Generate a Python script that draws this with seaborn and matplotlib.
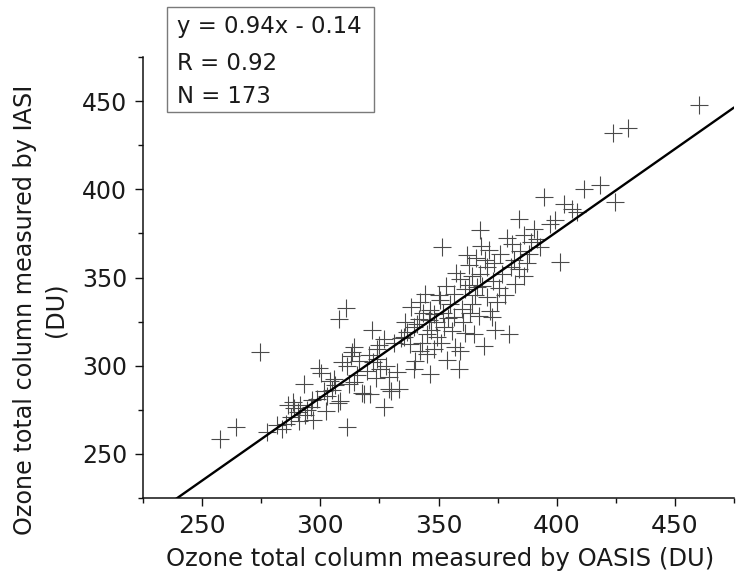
import numpy as np
import pandas as pd
import matplotlib
matplotlib.use("Agg")
import matplotlib.pyplot as plt
from matplotlib.patches import Rectangle
import seaborn as sns

# ---- data ----
oasis = [
    257.5, 264.5, 274.5, 277.5, 281.5, 284.0, 285.5, 286.5, 287.5, 288.5,
    289.0, 290.5, 291.5, 293.0, 293.5, 294.5, 296.0, 297.0, 298.5, 299.5,
    300.5, 301.5, 302.2, 302.9, 304.3, 305.7, 306.4, 307.8, 308.5, 307.5,
    309.3, 310.7, 311.1, 312.0, 312.8, 313.5, 314.2, 314.2, 315.5, 317.7,
    318.4, 319.8, 321.2, 321.9, 322.5, 324.0, 324.0, 325.0, 325.4, 326.8,
    326.8, 327.6, 328.9, 329.0, 329.7,
    333.2, 334.0, 335.3, 336.7, 338.1, 339.5, 339.5, 340.2, 341.0, 341.7,
    342.3, 342.3, 343.5, 344.5, 345.0, 345.2, 346.3, 346.6, 347.0, 348.0,
    348.0, 349.0, 349.4, 350.0, 350.5,
    351.5, 352.0, 352.5, 353.0, 354.0, 355.0, 355.7, 356.4, 356.4, 357.1,
    358.5, 359.3, 359.3, 360.0, 360.5, 361.4, 362.1, 362.8, 363.5, 364.2,
    364.2, 364.9, 365.5, 366.3, 367.0, 367.7, 367.7, 368.0, 369.1, 369.5,
    370.5, 370.5, 371.9, 372.6, 373.0, 374.0, 374.8, 375.5, 376.2, 377.0,
    378.0, 379.7, 380.5, 381.1, 382.0, 382.5, 383.9, 384.5, 386.0, 386.0,
    388.1, 389.0, 390.2,
    391.5, 393.1, 394.5, 397.3, 399.4, 401.5, 402.9, 406.4, 408.6, 411.4,
    418.4, 424.8, 424.0, 430.1, 460.0,
    296.5, 291.0, 305.0, 311.5, 316.5, 320.5, 323.5, 331.0, 332.5, 336.0,
    338.5, 343.0, 346.0, 351.0, 353.5, 357.5, 361.0, 363.0, 366.0, 368.5,
    371.5, 373.5, 379.0, 384.0, 387.5,
]
iasi = [
    258.5, 265.5, 307.8, 262.5, 266.5, 264.0, 267.0, 277.5, 271.0, 279.5,
    276.0, 274.0, 278.0, 289.5, 272.0, 275.0, 276.5, 269.5, 281.0, 298.5,
    296.0, 285.8, 274.4, 283.0, 291.5, 292.4, 289.0, 326.2, 280.1, 279.0,
    301.9, 332.5, 265.0, 289.6, 305.7, 307.6, 310.4, 290.5, 295.0, 284.8,
    283.9, 297.2, 283.9, 320.5, 302.0, 303.8, 309.5, 312.0, 298.1, 276.5,
    315.1, 300.0, 286.8, 293.4, 285.8,
    286.8, 315.5, 316.1, 318.9, 312.3, 298.1, 321.8, 302.8, 323.7, 326.5,
    308.5, 336.0, 330.0, 340.7, 318.0, 306.6, 295.3, 331.3, 320.0, 309.5,
    329.4, 325.0, 316.1, 340.0, 337.0,
    367.2, 330.0, 322.0, 345.0, 327.0, 335.0, 319.9, 327.7, 340.7, 310.4,
    298.1, 308.5, 349.3, 332.0, 325.0, 343.6, 362.5, 357.0, 330.0, 335.0,
    351.1, 318.0, 340.0, 344.6, 328.0, 352.1, 376.7, 367.7, 311.4, 360.0,
    338.8, 355.8, 331.2, 327.7, 348.0, 320.0, 336.0, 344.0, 363.5, 352.0,
    340.0, 318.0, 356.0, 369.2, 360.0, 346.4, 354.9, 365.0, 351.1, 373.9,
    363.5, 370.0, 377.7,
    372.0, 367.2, 395.6, 380.5, 382.4, 358.7, 391.9, 389.0, 387.1, 400.4,
    402.3, 392.8, 432.0, 434.8, 447.7,
    280.5, 268.5, 286.0, 300.0, 302.5, 306.0, 293.0, 313.0, 296.5, 325.0,
    333.0, 313.0, 326.0, 313.0, 303.5, 352.5, 318.5, 345.5, 361.0, 345.0,
    365.5, 358.5, 372.5, 383.0, 358.0,
]
fit_slope = 0.94
fit_intercept = -0.14
stat_lines = ["y = 0.94x - 0.14", "R = 0.92", "N = 173"]
x_ticks = [250, 300, 350, 400, 450]
y_ticks = [250, 300, 350, 400, 450]
x_lim = (225, 475)
y_lim = (225, 475)
x_label = "Ozone total column measured by OASIS (DU)"
y_label = "Ozone total column measured by IASI\n(DU)"

df = pd.DataFrame({"oasis": oasis, "iasi": iasi})
line_x = np.array(x_lim, dtype=float)
line_df = pd.DataFrame({"x": line_x, "y": fit_slope * line_x + fit_intercept})

# ---- figure ----
sns.set_style("ticks")
plt.rcParams["font.family"] = ["DejaVu Sans"]

W, H = 737, 579
fig = plt.figure(figsize=(W / 100, H / 100), dpi=100)
ax = fig.add_axes([143 / W, 1 - 498 / H, (734 - 143) / W, (498 - 57) / H])

sns.scatterplot(data=df, x="oasis", y="iasi", marker="+", s=150,
                color="#4a4a4a", linewidth=0.8, ax=ax, zorder=2)
sns.lineplot(data=line_df, x="x", y="y", color="black", linewidth=1.7,
             ax=ax, zorder=3)

ax.set_xlim(*x_lim)
ax.set_ylim(*y_lim)
ax.set_xticks(x_ticks)
ax.set_yticks(y_ticks)
ax.set_xticks([t + 25 for t in x_ticks[:-1]] + [x_ticks[0] - 25, x_ticks[-1] + 25], minor=True)
ax.set_yticks([t + 25 for t in y_ticks[:-1]] + [y_ticks[0] - 25, y_ticks[-1] + 25], minor=True)

sns.despine(ax=ax)
for s in ["left", "bottom"]:
    ax.spines[s].set_linewidth(1.1)
    ax.spines[s].set_color("#111111")

ax.tick_params(axis="both", which="major", direction="out", length=6,
               width=1.0, color="#111111")
ax.tick_params(axis="both", which="minor", direction="out", length=3.5,
               width=1.0, color="#111111")
ax.tick_params(axis="y", which="major", labelsize=17, pad=5.5, labelcolor="#1a1a1a")
ax.tick_params(axis="x", which="major", labelsize=18, pad=5.5, labelcolor="#1a1a1a")

ax.set_xlabel(x_label, fontsize=17.5, color="#1a1a1a")
ax.xaxis.set_label_coords(0.503, -0.11)
ax.set_ylabel(y_label, fontsize=17.2, color="#1a1a1a", linespacing=1.35)
ax.yaxis.set_label_coords(-0.127, 0.426)

# statistics box
fig.add_artist(Rectangle((167 / W, 1 - 112 / H), (374 - 167) / W, (112 - 7) / H,
                         transform=fig.transFigure, fill=False,
                         edgecolor="#7a7a7a", linewidth=1.0))
for txt, base in zip(stat_lines, [32.5, 70, 103]):
    fig.text(177 / W, 1 - base / H, txt, fontsize=16.4, color="#1a1a1a",
             ha="left", va="baseline")

fig.savefig("out.png", dpi=100)
